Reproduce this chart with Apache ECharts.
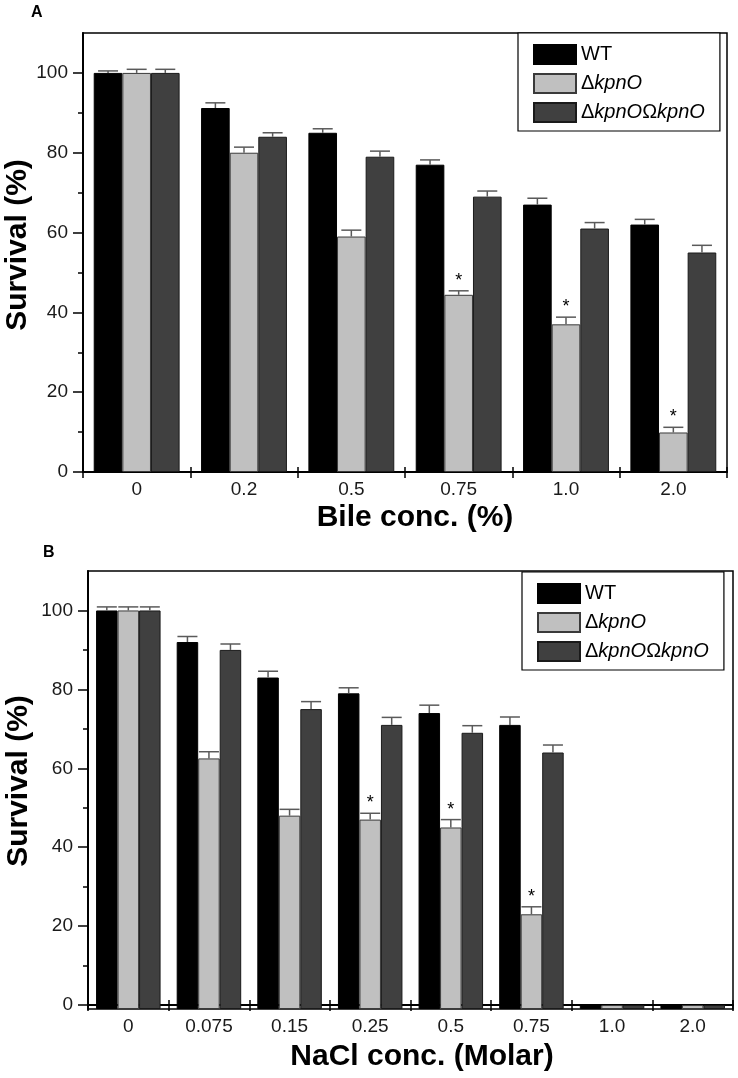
<!DOCTYPE html>
<html>
<head>
<meta charset="utf-8">
<script src="https://cdn.jsdelivr.net/npm/echarts@6/dist/echarts.min.js"></script>
<style>
html,body{margin:0;padding:0;background:#fff;}
#chart{width:738px;height:1078px;}
</style>
</head>
<body>
<div id="chart"></div>
<script>
// ---------- Data ----------
const seriesNames = ['WT', 'ΔkpnO', 'ΔkpnOΩkpnO'];
const yTickValues = [0, 20, 40, 60, 80, 100];
const yMinorTickValues = [10, 30, 50, 70, 90];

// Panel A: bile
const bileCategories = ['0', '0.2', '0.5', '0.75', '1.0', '2.0'];
const bileWT = [100, 91.2, 85, 77, 67, 62];
const bileKpnO = [100, 80, 59, 44.4, 37, 9.9];
const bileComp = [100, 84, 79, 69, 61, 55];
const bileWTErr = [0.5, 1.3, 1.0, 1.2, 1.6, 1.3];
const bileKpnOErr = [0.9, 1.4, 1.6, 1.0, 1.8, 1.3];
const bileCompErr = [0.9, 1.0, 1.4, 1.4, 1.5, 1.8];
const bileKpnOSig = [0, 0, 0, 1, 1, 1];

// Panel B: NaCl
const naclCategories = ['0', '0.075', '0.15', '0.25', '0.5', '0.75', '1.0', '2.0'];
const naclWT = [100, 92, 83, 79, 74, 71, 0, 0];
const naclKpnO = [100, 62.5, 48, 47, 45, 23, 0, 0];
const naclComp = [100, 90, 75, 71, 69, 64, 0, 0];
const naclWTErr = [0.9, 1.4, 1.6, 1.4, 2.0, 2.0, 0, 0];
const naclKpnOErr = [0.9, 1.7, 1.6, 1.6, 2.0, 1.9, 0, 0];
const naclCompErr = [0.9, 1.5, 1.9, 1.9, 1.8, 1.9, 0, 0];
const naclKpnOSig = [0, 0, 0, 1, 1, 1, 0, 0];

// ---------- Styles ----------
const FONT = 'Arial, "Liberation Sans", Helvetica, sans-serif';
const barStyles = [
  { color: '#000000', borderColor: '#000000', borderWidth: 1 },
  { color: '#c0c0c0', borderColor: '#3a3a3a', borderWidth: 1 },
  { color: '#404040', borderColor: '#1a1a1a', borderWidth: 1 }
];

function errorData(vals, errs, sigs) {
  const out = [];
  vals.forEach((v, si) => {
    v.forEach((val, ci) => {
      out.push([ci, val, errs[si][ci], si - 1, sigs[si] ? sigs[si][ci] : 0]);
    });
  });
  return out;
}

function renderErr(params, api) {
  const cat = api.value(0), val = api.value(1), err = api.value(2), off = api.value(3), sig = api.value(4);
  const band = api.size([1, 0])[0];
  const barW = band * 0.8 / 3;
  const p = api.coord([cat, val]);
  const x = p[0] + off * barW;
  const yTop = p[1];
  const yErr = api.coord([cat, val + err])[1];
  const children = [];
  const ls = { stroke: '#5a5a5a', lineWidth: 1.5 };
  if (err > 0) {
    children.push({ type: 'line', shape: { x1: x, y1: yTop, x2: x, y2: yErr }, style: ls });
    children.push({ type: 'line', shape: { x1: x - 10, y1: yErr, x2: x + 10, y2: yErr }, style: ls });
  }
  if (sig) {
    children.push({ type: 'text', x: x, y: yErr - 19, style: { text: '*', fontSize: 18, fontFamily: FONT, fill: '#000', align: 'center', verticalAlign: 'top' } });
  }
  return { type: 'group', children: children };
}

function xAxisCfg(gridIndex, cats) {
  return {
    type: 'category', gridIndex: gridIndex, data: cats,
    axisLine: { lineStyle: { color: '#000', width: 2 } },
    axisTick: { show: true, length: 6, lineStyle: { color: '#000', width: 1.5 } },
    axisLabel: { fontSize: 19, fontFamily: FONT, color: '#1a1a1a', margin: 8 },
    splitLine: { show: false }
  };
}
function xAxisInnerTicks(gridIndex, cats) {
  return {
    type: 'category', gridIndex: gridIndex, data: cats, position: 'bottom',
    axisLine: { show: false },
    axisTick: { show: true, inside: true, length: 5, lineStyle: { color: '#000', width: 1.5 } },
    axisLabel: { show: false },
    splitLine: { show: false }
  };
}
function yAxisCfg(gridIndex, min) {
  return {
    type: 'value', gridIndex: gridIndex, min: min, max: 110, startValue: min,
    axisLine: { show: true, lineStyle: { color: '#000', width: 2 } },
    axisTick: { show: true, length: 10, customValues: yTickValues, lineStyle: { color: '#000', width: 1.5 } },
    axisLabel: { customValues: yTickValues, fontSize: 19, fontFamily: FONT, color: '#1a1a1a', margin: 15 },
    splitLine: { show: false }
  };
}
function yMinorCfg(gridIndex, min) {
  return {
    type: 'value', gridIndex: gridIndex, min: min, max: 110, position: 'left',
    axisLine: { show: false },
    axisTick: { show: true, length: 5, customValues: yMinorTickValues, lineStyle: { color: '#000', width: 1.5 } },
    axisLabel: { show: false },
    splitLine: { show: false }
  };
}

function legendCfg(left, top) {
  return {
    left: left, top: top, orient: 'vertical',
    data: seriesNames,
    selectedMode: false,
    icon: 'rect', itemWidth: 42, itemHeight: 19, itemGap: 8,
    padding: [11, 15, 8, 15],
    backgroundColor: '#fff', borderColor: '#000', borderWidth: 1.2, borderRadius: 0,
    textStyle: {
      fontSize: 20, lineHeight: 19, fontFamily: FONT, color: '#000',
      rich: { it: { fontStyle: 'italic', fontSize: 20, lineHeight: 19, fontFamily: FONT, color: '#000' } }
    },
    formatter: function (name) { return name.replace(/kpnO/g, '{it|kpnO}'); }
  };
}

function barSeries(name, idx, xi, yi, data) {
  return {
    type: 'bar', name: name, xAxisIndex: xi, yAxisIndex: yi, data: data,
    barGap: '0%', barCategoryGap: '20%',
    itemStyle: barStyles[idx], emphasis: { disabled: true }, z: 2
  };
}

const option = {
  animation: false,
  backgroundColor: '#fff',
  title: [
    { text: 'A', left: 31, top: 5, padding: 0, textStyle: { fontSize: 16, fontWeight: 'bold', fontFamily: FONT, color: '#000' } },
    { text: 'B', left: 43, top: 545, padding: 0, textStyle: { fontSize: 16, fontWeight: 'bold', fontFamily: FONT, color: '#000' } }
  ],
  grid: [
    { left: 83, top: 33, width: 644, height: 439, show: true, borderColor: '#000', borderWidth: 1.5, backgroundColor: 'transparent' },
    { left: 88, top: 571, width: 645, height: 438, show: true, borderColor: '#000', borderWidth: 1.5, backgroundColor: 'transparent' }
  ],
  xAxis: [xAxisCfg(0, bileCategories), xAxisCfg(1, naclCategories), xAxisInnerTicks(0, bileCategories), xAxisInnerTicks(1, naclCategories)],
  yAxis: [yAxisCfg(0, 0), yMinorCfg(0, 0), yAxisCfg(1, -1), yMinorCfg(1, -1)],
  legend: [legendCfg(518, 33), legendCfg(522, 572)],
  graphic: [
    { type: 'text', x: 18, y: 245, rotation: Math.PI / 2, style: { text: 'Survival (%)', fontSize: 30, fontWeight: 'bold', fontFamily: FONT, fill: '#000', align: 'center', verticalAlign: 'middle' } },
    { type: 'text', x: 415, y: 518, style: { text: 'Bile conc. (%)', fontSize: 30, fontWeight: 'bold', fontFamily: FONT, fill: '#000', align: 'center', verticalAlign: 'middle' } },
    { type: 'text', x: 19, y: 781, rotation: Math.PI / 2, style: { text: 'Survival (%)', fontSize: 30, fontWeight: 'bold', fontFamily: FONT, fill: '#000', align: 'center', verticalAlign: 'middle' } },
    { type: 'text', x: 422, y: 1057, style: { text: 'NaCl conc. (Molar)', fontSize: 30, fontWeight: 'bold', fontFamily: FONT, fill: '#000', align: 'center', verticalAlign: 'middle' } }
  ],
  series: [
    barSeries(seriesNames[0], 0, 0, 0, bileWT),
    barSeries(seriesNames[1], 1, 0, 0, bileKpnO),
    barSeries(seriesNames[2], 2, 0, 0, bileComp),
    {
      type: 'custom', xAxisIndex: 0, yAxisIndex: 0, z: 5, silent: true,
      renderItem: renderErr, encode: { x: 0, y: 1 },
      data: errorData([bileWT, bileKpnO, bileComp], [bileWTErr, bileKpnOErr, bileCompErr], [null, bileKpnOSig, null])
    },
    barSeries(seriesNames[0], 0, 1, 2, naclWT),
    barSeries(seriesNames[1], 1, 1, 2, naclKpnO),
    barSeries(seriesNames[2], 2, 1, 2, naclComp),
    {
      type: 'custom', xAxisIndex: 1, yAxisIndex: 2, z: 5, silent: true,
      renderItem: renderErr, encode: { x: 0, y: 1 },
      data: errorData([naclWT, naclKpnO, naclComp], [naclWTErr, naclKpnOErr, naclCompErr], [null, naclKpnOSig, null])
    }
  ]
};

const chart = echarts.init(document.getElementById('chart'), null, { renderer: 'canvas' });
chart.setOption(option);
</script>
</body>
</html>
